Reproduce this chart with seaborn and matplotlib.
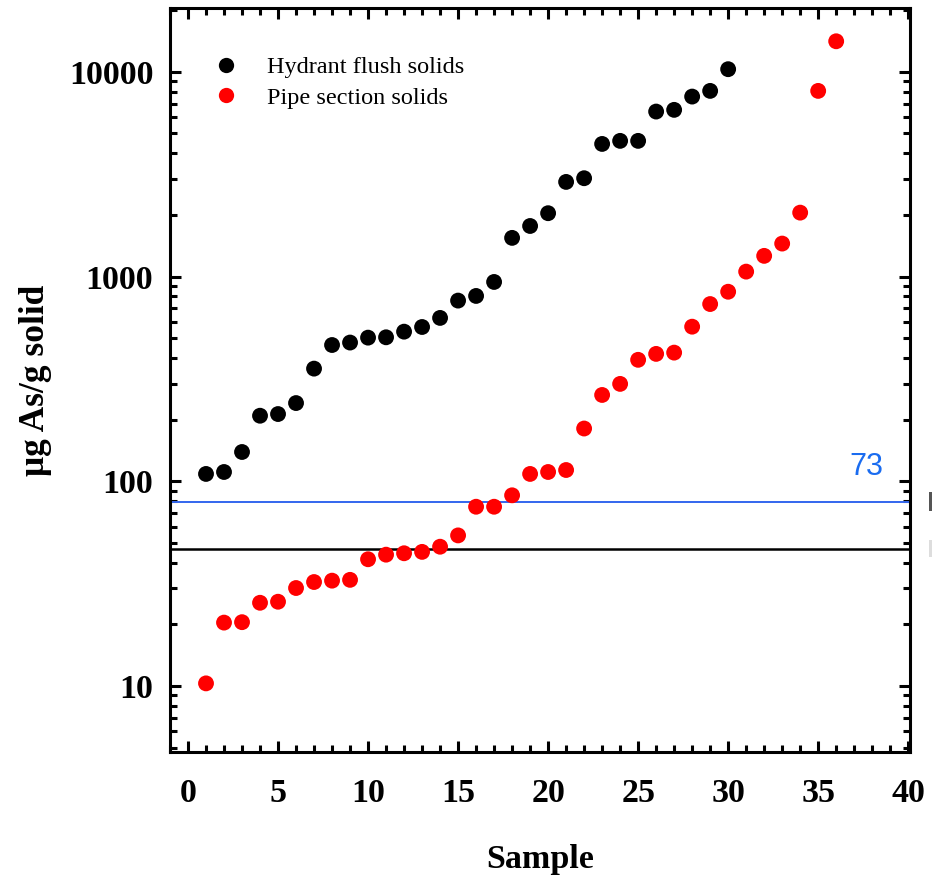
import numpy as np
import pandas as pd
import seaborn as sns
import matplotlib
matplotlib.use("Agg")
import matplotlib.pyplot as plt
from matplotlib.patches import Rectangle
from matplotlib.ticker import LogLocator, MultipleLocator, NullFormatter, FixedLocator, FixedFormatter

# ---- data ----
hydrant_samples = list(range(1, 31))
hydrant_values = [108.6, 111, 139, 209, 213, 241, 355, 463, 476, 503,
                  505, 538, 567, 628, 763, 804, 941, 1545, 1766, 2039,
                  2899, 3022, 4444, 4600, 4600, 6396, 6520, 7570, 8070, 10300]
pipe_samples = list(range(1, 37))
pipe_values = [10.3, 20.4, 20.5, 25.5, 25.8, 30.1, 32.2, 32.7, 33.0, 41.6,
               43.8, 44.5, 45.2, 47.9, 54.4, 75.1, 75.1, 85.4, 108.6, 111,
               113.5, 181, 264, 299, 392, 419, 425, 569, 734, 843,
               1057, 1262, 1449, 2052, 8070, 14100]
series_names = ["Hydrant flush solids", "Pipe section solids"]
series_colors = ["#000000", "#ff0000"]
blue_line_value = 79.3
black_line_value = 46.7
blue_label = "73"
x_ticks = [0, 5, 10, 15, 20, 25, 30, 35, 40]
y_ticks = [10, 100, 1000, 10000]
y_tick_labels = ["10", "100", "1000", "10000"]

df = pd.DataFrame({
    "Sample": hydrant_samples + pipe_samples,
    "value": hydrant_values + pipe_values,
    "series": [series_names[0]] * len(hydrant_samples) + [series_names[1]] * len(pipe_samples),
})

sns.set_style("white")
plt.rcParams["font.family"] = ["Liberation Serif", "DejaVu Serif"]
plt.rcParams["text.color"] = "black"
plt.rcParams["axes.labelcolor"] = "black"
plt.rcParams["xtick.color"] = "black"
plt.rcParams["ytick.color"] = "black"

fig = plt.figure(figsize=(9.32, 8.75), dpi=100)
ax = fig.add_axes([170 / 932, 1 - 752 / 875, 740 / 932, 744 / 875])

sns.scatterplot(data=df, x="Sample", y="value", hue="series",
                palette=dict(zip(series_names, series_colors)),
                s=130, linewidth=0, ax=ax, legend=True, zorder=3)

ax.set_yscale("log")
ax.set_xlim(-1, 40.1)
ax.set_ylim(4.76, 20500)

ax.axhline(blue_line_value, color="#3366ee", lw=1.4, zorder=2)
ax.axhline(black_line_value, color="black", lw=1.8, zorder=2)
ax.text(37.7, 118, blue_label, color="#1a6cf0", fontsize=22,
        family=["Liberation Sans", "DejaVu Sans"], ha="center", va="center")

# ticks
ax.xaxis.set_major_locator(FixedLocator(x_ticks))
ax.xaxis.set_minor_locator(MultipleLocator(1))
ax.yaxis.set_major_locator(FixedLocator(y_ticks))
ax.yaxis.set_major_formatter(FixedFormatter(y_tick_labels))
ax.yaxis.set_minor_locator(LogLocator(base=10, subs=np.arange(2, 10), numticks=20))
ax.yaxis.set_minor_formatter(NullFormatter())
ax.tick_params(which="both", direction="in", top=True, right=True, bottom=True, left=True,
               width=2.2, colors="black")
ax.tick_params(which="major", length=8, labelsize=24.5)
ax.tick_params(axis="x", which="major", pad=19)
ax.tick_params(axis="y", which="major", pad=12)
ax.tick_params(which="minor", length=5)
for lab in ax.get_xticklabels() + ax.get_yticklabels():
    lab.set_fontweight("bold")
for sp in ax.spines.values():
    sp.set_visible(True)
    sp.set_linewidth(2.2)
    sp.set_color("black")

ax.set_xlabel("Sample", fontsize=24.5, fontweight="bold", labelpad=25)
ax.set_ylabel("μg As/g solid", fontsize=25.5, fontweight="bold", labelpad=12)

leg = ax.legend(loc="upper left", bbox_to_anchor=(0.0428, 0.935), frameon=False,
                fontsize=17.5, borderaxespad=0, borderpad=0, handlelength=2,
                handletextpad=0.7, labelspacing=0.35)
for h in leg.legend_handles:
    try:
        h.set_markersize(11)
    except AttributeError:
        pass

# partially visible marks clipped at the right edge of the image
fig.add_artist(Rectangle((929 / 932, 1 - 511 / 875), 3 / 932, 19 / 875,
                         transform=fig.transFigure, color="#555555", lw=0))
fig.add_artist(Rectangle((929 / 932, 1 - 557 / 875), 3 / 932, 17 / 875,
                         transform=fig.transFigure, color="#dddddd", lw=0))

fig.savefig("out.png", dpi=100)
